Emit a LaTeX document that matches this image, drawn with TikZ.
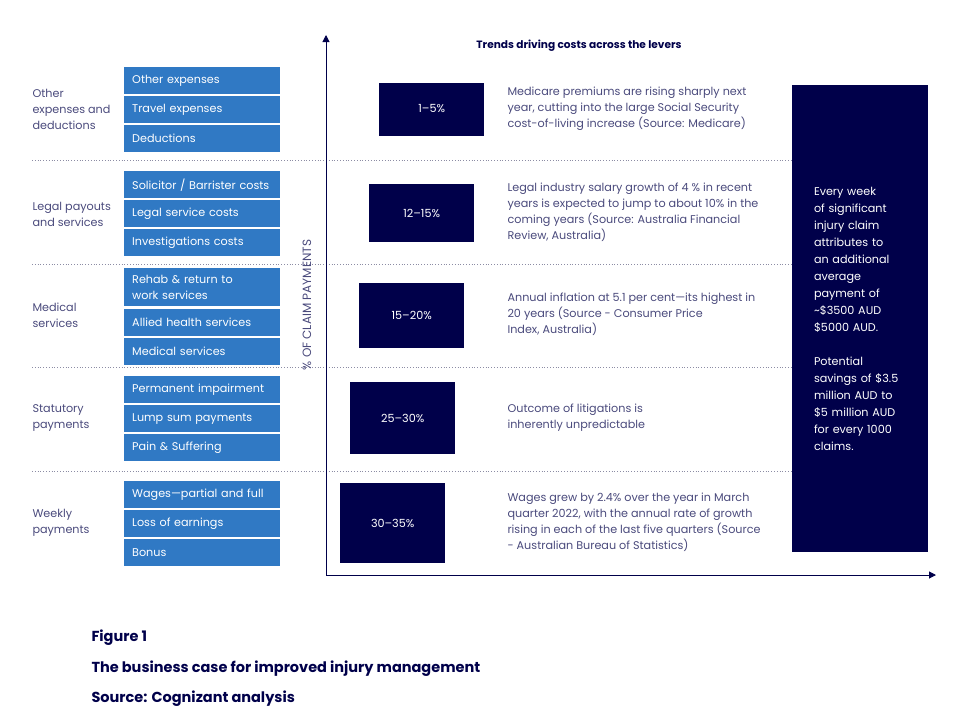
\documentclass[tikz,border=0pt]{standalone}
\usepackage{fontspec}
\setmainfont{Poppins}
\usepackage{xcolor}
\definecolor{cMain}{HTML}{00004A}
\definecolor{cBlue}{HTML}{3079C4}
\definecolor{cText}{HTML}{4A4A7C}
\definecolor{cGray}{HTML}{8C8CA4}
\usetikzlibrary{positioning,arrows.meta}
\newcommand{\fsBody}{\fontsize{11.2}{16}\selectfont}
\newcommand{\fsCap}{\fontsize{14.5}{16}\selectfont\bfseries}
\tikzset{
  node-lever/.style={fill=cBlue,text=white,text width=140pt,
    inner xsep=8pt,inner ysep=2pt,minimum height=27pt,align=left,font=\fsBody},
  node-group/.style={anchor=west,align=left,text=cText,font=\fsBody},
  node-share/.style={fill=cMain,text=white,anchor=west,minimum width=105pt,font=\fsBody},
  node-trend/.style={anchor=west,align=left,text=cText,font=\fsBody},
  node-panel/.style={fill=cMain,text=white,minimum width=136pt,minimum height=467pt,
    text width=92pt,inner xsep=22pt,align=left,font=\fontsize{11.2}{17}\selectfont},
  node-caption/.style={anchor=west,text=cMain,font=\fsCap},
  sep-line/.style={dotted,thick,draw=cGray},
  axis/.style={-{Triangle[length=7pt,width=7pt]},line width=1pt,draw=cMain},
}
\begin{document}
\begin{tikzpicture}[x=1pt,y=-1pt]
  \useasboundingbox (0,0) rectangle (956,718);
  % levers, grouped
  \node[node-lever,anchor=north west] (other) at (124,67) {Other expenses};
  \node[node-lever,below=1.5pt of other] (travel) {Travel expenses};
  \node[node-lever,below=1.5pt of travel] (deduct) {Deductions};
  \node[node-lever,anchor=north west] (solicitor) at (124,171) {Solicitor / Barrister costs};
  \node[node-lever,below=1.5pt of solicitor] (legalsvc) {Legal service costs};
  \node[node-lever,below=1.5pt of legalsvc] (investig) {Investigations costs};
  \node[node-lever,anchor=north west,minimum height=38pt] (rehab) at (124,268) {Rehab \& return to\\work services};
  \node[node-lever,below=2pt of rehab] (allied) {Allied health services};
  \node[node-lever,below=2pt of allied] (medsvc) {Medical services};
  \node[node-lever,anchor=north west] (perm) at (124,376) {Permanent impairment};
  \node[node-lever,below=1.5pt of perm] (lump) {Lump sum payments};
  \node[node-lever,below=1.5pt of lump] (pain) {Pain \& Suffering};
  \node[node-lever,anchor=north west] (wages) at (124,481) {Wages---partial and full};
  \node[node-lever,below=1.5pt of wages] (loss) {Loss of earnings};
  \node[node-lever,below=1.5pt of loss] (bonus) {Bonus};

  \node[node-group] (g-other) at (29,109) {Other\\expenses and\\deductions};
  \node[node-group] (g-legal) at (29,214) {Legal payouts\\and services};
  \node[node-group] (g-medical) at (29,315) {Medical\\services};
  \node[node-group] (g-statutory) at (29,418) {Statutory\\payments};
  \node[node-group] (g-weekly) at (29,523) {Weekly\\payments};

  % right panel
  \node[node-panel] (panel) at (860,318.5) {Every week\\of significant\\injury claim\\attributes to\\an additional\\average\\payment of\\\textasciitilde\$3500 AUD\\\$5000 AUD.\\[17pt]Potential\\savings of \$3.5\\million AUD to\\\$5 million AUD\\for every 1000\\claims.};

  % separators
  \draw[sep-line] (32,160) -- (panel.west |- 0,160);
  \draw[sep-line] (32,264) -- (panel.west |- 0,264);
  \draw[sep-line] (32,367) -- (panel.west |- 0,367);
  \draw[sep-line] (32,471) -- (panel.west |- 0,471);

  % axes
  \coordinate (origin) at (326,575);
  \coordinate (ytip) at (326,35);
  \coordinate (xtip) at (936,575);
  \draw[axis] (origin) -- (ytip);
  \draw[axis] (origin) -- (xtip);
  \node[rotate=90,text=cText,font=\fontsize{12}{14}\selectfont] (ylabel) at (307,305) {\% OF CLAIM PAYMENTS};
  \node[text=cMain,font=\fontsize{10.6}{12}\selectfont\bfseries] (title) at (579,46) {Trends driving costs across the levers};

  % shares and trends
  \node[node-share,minimum height=53pt] (s-other) at (379,109) {1--5\%};
  \node[node-share,minimum height=58pt] (s-legal) at (369,213) {12--15\%};
  \node[node-share,minimum height=65pt] (s-medical) at (359,315.5) {15--20\%};
  \node[node-share,minimum height=72pt] (s-statutory) at (350,418) {25--30\%};
  \node[node-share,minimum height=80pt] (s-weekly) at (340,523) {30--35\%};

  \node[node-trend] (t-other) at (504,109) {Medicare premiums are rising sharply next\\year, cutting into the large Social Security\\cost-of-living increase (Source: Medicare)};
  \node[node-trend] (t-legal) at (504,212) {Legal industry salary growth of 4 \% in recent\\years is expected to jump to about 10\% in the\\coming years (Source: Australia Financial\\Review, Australia)};
  \node[node-trend] (t-medical) at (504,314) {Annual inflation at 5.1 per cent---its highest in\\20 years (Source - Consumer Price\\Index, Australia)};
  \node[node-trend] (t-statutory) at (504,418) {Outcome of litigations is\\inherently unpredictable};
  \node[node-trend] (t-weekly) at (504,522) {Wages grew by 2.4\% over the year in March\\quarter 2022, with the annual rate of growth\\rising in each of the last five quarters (Source\\- Australian Bureau of Statistics)};

  % caption
  \node[node-caption] (fig) at (88,638) {Figure 1};
  \node[node-caption] (figtitle) at (88,669) {The business case for improved injury management};
  \node[node-caption] (figsrc) at (88,699) {Source: Cognizant analysis};
\end{tikzpicture}
\end{document}
